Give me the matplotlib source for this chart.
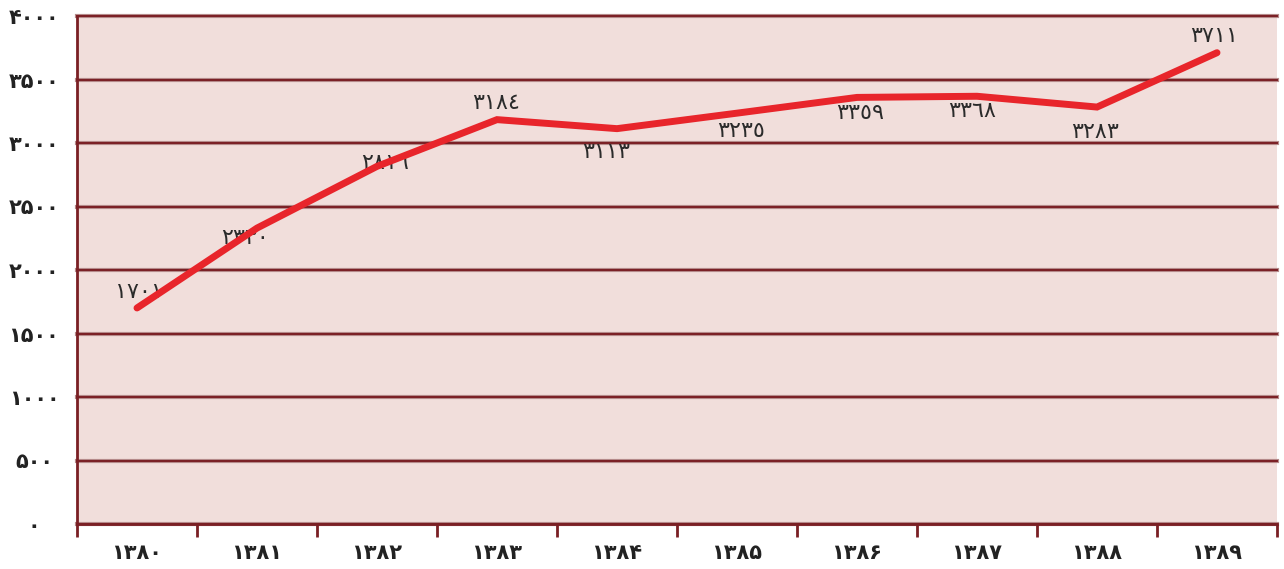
import matplotlib
matplotlib.use("Agg")
import matplotlib.pyplot as plt

plt.rcParams['font.family'] = ['DejaVu Sans']

# Data
years = [1380, 1381, 1382, 1383, 1384, 1385, 1386, 1387, 1388, 1389]
values = [1701, 2330, 2816, 3184, 3113, 3235, 3359, 3368, 3283, 3711]
y_ticks = [0, 500, 1000, 1500, 2000, 2500, 3000, 3500, 4000]

# Label placement (pixel offsets from each point)
label_offsets = [(2, 16), (-12, -10), (8, 3), (-1, 17), (-11, -23),
                 (4, -18), (3, -16), (-5, -15), (-2, -25), (-3, 17)]

PERSIAN = str.maketrans("0123456789", "۰۱۲۳۴۵۶۷۸۹")
ARABIC = str.maketrans("0123456789", "٠١٢٣٤٥٦٧٨٩")

def fa(n):
    return str(n).translate(PERSIAN)

def ar(n):
    return str(n).translate(ARABIC)

maroon = '#7a1f24'
bg = '#f1dedb'
red = '#e8252b'

fig = plt.figure(figsize=(12.84, 5.69), dpi=100)
ax = fig.add_axes([77 / 1284, 45 / 569, 1200 / 1284, 508 / 569])
ax.set_facecolor(bg)

x = list(range(len(years)))
ax.set_xlim(-0.5, len(years) - 0.5)
ax.set_ylim(0, 4000)

# Horizontal grid
for yv in y_ticks:
    ax.axhline(yv, color='#b58a8a', lw=3.0, zorder=1, clip_on=False)
    ax.axhline(yv, color=maroon, lw=1.4, zorder=1.1, clip_on=False)

ax.plot(x, values, color=red, lw=5.0, solid_capstyle='round',
        solid_joinstyle='miter', zorder=4)

for xi, v, (dx, dy) in zip(x, values, label_offsets):
    ax.annotate(ar(v), (xi, v), xytext=(dx, dy), textcoords='offset pixels',
                ha='center', va='center', fontsize=16, color='#2b2b2b',
                zorder=3)

# Axes styling
for side in ('top', 'right'):
    ax.spines[side].set_visible(False)
for side in ('left', 'bottom'):
    ax.spines[side].set_color(maroon)
    ax.spines[side].set_linewidth(2)
ax.spines['left'].set_zorder(5)

ax.set_yticks(y_ticks)
ax.set_yticklabels([fa(t) for t in y_ticks], fontsize=15, fontweight='bold',
                   color='#222222')
ax.tick_params(axis='y', length=0, pad=31)
for lab in ax.get_yticklabels():
    lab.set_horizontalalignment('center')

ax.set_xticks(x)
ax.set_xticklabels([fa(y) for y in years], fontsize=15, fontweight='bold',
                   color='#222222')
ax.set_xticks([i - 0.5 for i in range(len(years) + 1)], minor=True)
ax.tick_params(axis='x', which='major', length=0, pad=14)
ax.tick_params(axis='x', which='minor', length=9, width=2, color=maroon,
               direction='out')

fig.savefig('out.png', dpi=100, facecolor='white')
